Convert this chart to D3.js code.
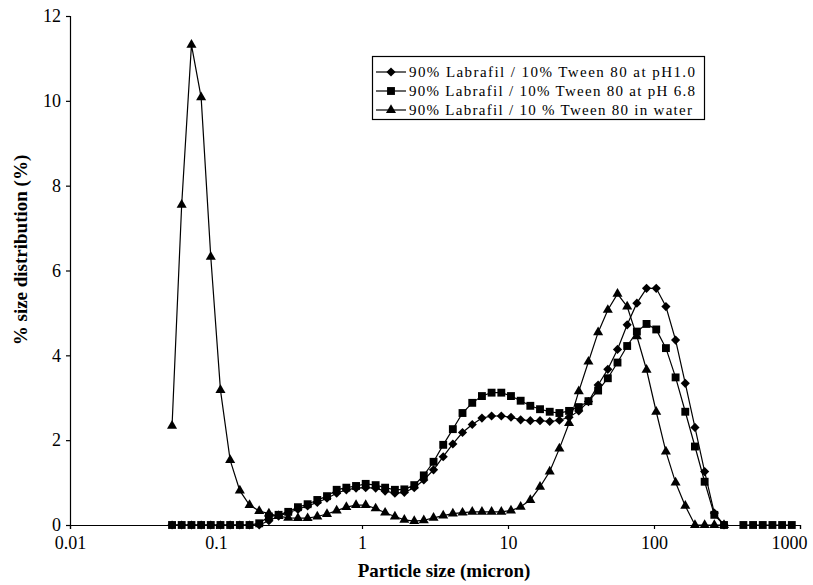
<!DOCTYPE html>
<html>
<head>
<meta charset="utf-8">
<script src="https://cdn.jsdelivr.net/npm/d3@7"></script>
<style>
  body { margin: 0; background: #fff; }
  text { font-family: "Liberation Serif", "Times New Roman", serif; fill: #000; }
</style>
</head>
<body>
<div id="container"></div>
<script>
// particle size bins (micron)
const sizes = [0.05, 0.0582, 0.0679, 0.0791, 0.0921, 0.1073, 0.125, 0.1456, 0.1697, 0.1977,
  0.2303, 0.2683, 0.3125, 0.3641, 0.4242, 0.4942, 0.5757, 0.6707, 0.7813, 0.9103,
  1.06, 1.24, 1.44, 1.68, 1.95, 2.28, 2.65, 3.09, 3.60, 4.19,
  4.88, 5.69, 6.63, 7.72, 9.00, 10.48, 12.21, 14.22, 16.57, 19.31,
  22.49, 26.20, 30.53, 35.56, 41.43, 48.27, 56.23, 65.51, 76.32, 88.91,
  103.58, 120.67, 140.58, 163.77, 190.80, 222.28, 258.95, 301.68, 351.46, 409.45,
  477.01, 555.71, 647.41, 754.23, 878.67];

// % size distribution, one value per bin (null = no point)
const ph10 = [0, 0, 0, 0, 0, 0, 0, 0, 0, 0,
  0.1, 0.21, 0.29, 0.37, 0.45, 0.53, 0.63, 0.75, 0.83, 0.87,
  0.88, 0.87, 0.8, 0.75, 0.77, 0.88, 1.06, 1.3, 1.61, 1.91,
  2.18, 2.37, 2.52, 2.57, 2.57, 2.54, 2.48, 2.46, 2.46, 2.44,
  2.47, 2.54, 2.69, 2.91, 3.3, 3.67, 4.14, 4.72, 5.23, 5.58,
  5.58, 5.15, 4.36, 3.34, 2.3, 1.26, 0.28, 0];

const ph68 = [0, 0, 0, 0, 0, 0, 0, 0, 0, 0.04,
  0.2, 0.24, 0.31, 0.42, 0.49, 0.59, 0.68, 0.83, 0.88, 0.92,
  0.97, 0.94, 0.88, 0.83, 0.84, 0.94, 1.17, 1.49, 1.89, 2.26,
  2.64, 2.88, 3.04, 3.12, 3.12, 3.04, 2.93, 2.81, 2.73, 2.67,
  2.64, 2.69, 2.78, 2.92, 3.17, 3.46, 3.83, 4.22, 4.56, 4.74,
  4.61, 4.17, 3.48, 2.67, 1.85, 1.02, 0.24, 0, null, 0,
  0, 0, 0, 0, 0];

const water = [2.34, 7.55, 11.32, 10.08, 6.32, 3.18, 1.53, 0.81, 0.47, 0.33,
  0.27, 0.21, 0.17, 0.16, 0.16, 0.2, 0.26, 0.34, 0.42, 0.47,
  0.47, 0.39, 0.29, 0.2, 0.12, 0.09, 0.11, 0.17, 0.22, 0.27,
  0.29, 0.31, 0.31, 0.31, 0.31, 0.34, 0.43, 0.59, 0.9, 1.26,
  1.8, 2.4, 3.15, 3.85, 4.54, 5.07, 5.45, 5.15, 4.45, 3.66,
  2.67, 1.73, 1.0, 0.45, 0, 0, 0, 0];

const seriesNames = ["90% Labrafil / 10% Tween 80 at pH1.0",
                     "90% Labrafil / 10% Tween 80 at pH 6.8",
                     "90% Labrafil / 10 % Tween 80 in water"];
const xTicks = [0.01, 0.1, 1, 10, 100, 1000];
const xTickLabels = ["0.01", "0.1", "1", "10", "100", "1000"];
const yTicks = [0, 2, 4, 6, 8, 10, 12];

// set dimensions
const w = 813;
const h = 585;

const xScale = d3.scaleLog()
                 .domain([0.01, 1000])
                 .range([70, 800]);
const yScale = d3.scaleLinear()
                 .domain([0, 12])
                 .range([525, 16]);

const svg = d3.select("#container")
              .append("svg")
              .attr("width", w)
              .attr("height", h);

// marker shapes: rotated square, square, triangle
const markers = [
  { shape: d3.symbol().type(d3.symbolSquare).size(42), rotate: 45 },
  { shape: d3.symbol().type(d3.symbolSquare).size(62), rotate: 0 },
  { shape: d3.symbol().type(d3.symbolTriangle).size(44), rotate: 0 }
];

const allSeries = [ph10, ph68, water].map((vals, k) => ({
  name: seriesNames[k],
  marker: markers[k],
  points: vals.map((v, i) => ({ x: sizes[i], y: v }))
}));

// axes
const xAxis = d3.axisBottom(xScale)
                .tickValues(xTicks)
                .tickFormat((d, i) => xTickLabels[i])
                .tickSizeOuter(0)
                .tickSize(4)
                .tickPadding(6);
const yAxis = d3.axisLeft(yScale)
                .tickValues(yTicks)
                .tickSizeOuter(0)
                .tickSize(4)
                .tickPadding(5);

svg.append("g")
   .attr("transform", "translate(0," + yScale(0) + ")")
   .call(xAxis)
   .call(g => g.selectAll("text")
               .style("font-size", "18px")
               .attr("dy", "0.8em")
               .attr("dx", d => d == 1000 ? -11 : 0));

svg.append("g")
   .attr("transform", "translate(" + xScale(0.01) + ",0)")
   .call(yAxis)
   .call(g => g.selectAll("text").style("font-size", "18px"));

svg.selectAll(".domain, .tick line")
   .attr("stroke", "#000")
   .attr("stroke-width", 1.2);

// lines and markers
const line = d3.line()
               .defined(d => d.y !== null)
               .x(d => xScale(d.x))
               .y(d => yScale(d.y));

allSeries.forEach(s => {
  svg.append("path")
     .datum(s.points)
     .attr("fill", "none")
     .attr("stroke", "#000")
     .attr("stroke-width", 1.2)
     .attr("d", line);

  svg.append("g")
     .selectAll("path")
     .data(s.points.filter(d => d.y !== null))
     .enter()
     .append("path")
     .attr("d", s.marker.shape)
     .attr("fill", "#000")
     .attr("transform", d => "translate(" + xScale(d.x) + "," + yScale(d.y) + ") rotate(" + s.marker.rotate + ")");
});

// legend
const legend = svg.append("g");
legend.append("rect")
      .attr("x", 372.5)
      .attr("y", 56.5)
      .attr("width", 332)
      .attr("height", 63)
      .attr("fill", "#fff")
      .attr("stroke", "#000")
      .attr("stroke-width", 1.2);

allSeries.forEach((s, k) => {
  const ly = 72 + k * 19;
  legend.append("line")
        .attr("x1", 376).attr("x2", 406)
        .attr("y1", ly).attr("y2", ly)
        .attr("stroke", "#000")
        .attr("stroke-width", 1.2);
  legend.append("path")
        .attr("d", s.marker.shape)
        .attr("transform", "translate(391," + ly + ") rotate(" + s.marker.rotate + ")");
  legend.append("text")
        .attr("x", 409)
        .attr("y", ly + 5)
        .attr("textLength", k == 2 ? 283 : 286)
        .attr("lengthAdjust", "spacing")
        .style("font-size", "15px")
        .text(s.name);
});

// axis titles
svg.append("text")
   .attr("x", 444)
   .attr("y", 577)
   .attr("text-anchor", "middle")
   .style("font-size", "19px")
   .style("font-weight", "bold")
   .text("Particle size (micron)");

svg.append("text")
   .attr("transform", "translate(27,250) rotate(-90)")
   .attr("text-anchor", "middle")
   .style("font-size", "19px")
   .style("font-weight", "bold")
   .text("% size distribution (%)");
</script>
</body>
</html>
